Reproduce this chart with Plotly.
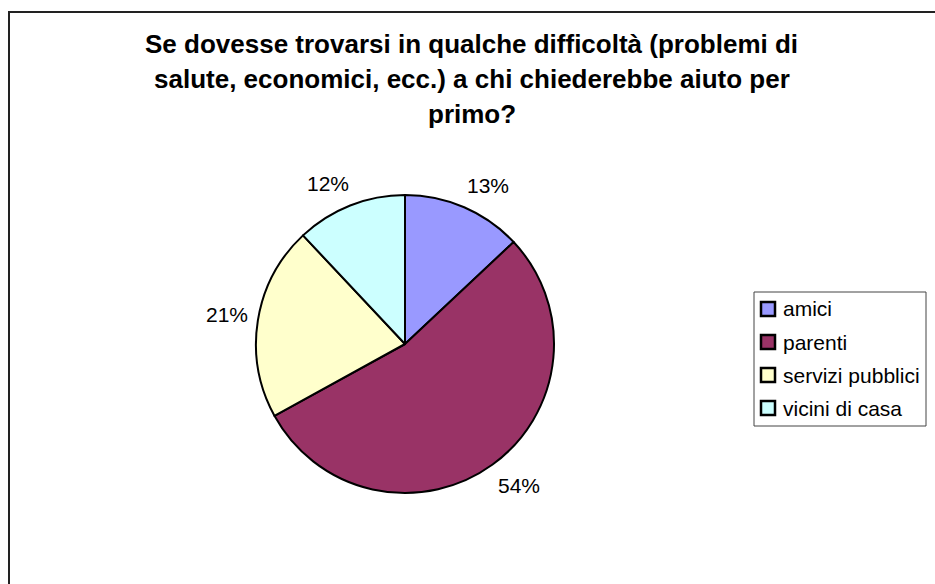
import math
import plotly.graph_objects as go

# Survey answers: who would you ask for help first
categories = ["amici", "parenti", "servizi pubblici", "vicini di casa"]
percentages = [13, 54, 21, 12]
slice_colors = ["#9999FF", "#993366", "#FFFFCC", "#CCFFFF"]

title_lines = [
    "Se dovesse trovarsi in qualche difficoltà (problemi di",
    "salute, economici, ecc.) a chi chiederebbe aiuto per",
    "primo?",
]

W, H = 935, 584
FONT = "Liberation Sans, Arial, sans-serif"

# pie geometry in pixels
CX, CY, R = 405, 344, 149


def px(x):
    return x / W


def py(y):
    return 1 - y / H


fig = go.Figure(
    go.Pie(
        labels=categories,
        values=percentages,
        marker=dict(colors=slice_colors, line=dict(color="black", width=2)),
        sort=False,
        direction="clockwise",
        rotation=0,
        textinfo="none",
        hoverinfo="label+percent",
        showlegend=False,
        domain=dict(x=[px(CX - R), px(CX + R)], y=[py(CY + R), py(CY - R)]),
    )
)

annotations = []
shapes = []

# title, one annotation per line
for i, line in enumerate(title_lines):
    annotations.append(
        dict(
            text=f"<b>{line}</b>",
            x=px(472),
            y=py(44 + i * 35),
            xref="paper",
            yref="paper",
            xanchor="center",
            yanchor="middle",
            showarrow=False,
            font=dict(family=FONT, size=26, color="black"),
        )
    )

# percentage labels placed outside each slice at its mid angle
total = sum(percentages)
cum = 0
half_w, half_h, gap = 19, 11, 12
for v in percentages:
    frac = (cum + v / 2) / total
    cum += v
    ang = math.pi / 2 - 2 * math.pi * frac
    c, s = math.cos(ang), math.sin(ang)
    ax = CX + (R + gap) * c
    ay = CY - (R + gap) * s
    kx = max(-1, min(1, c / 0.4))
    ky = max(-1, min(1, s / 0.4))
    tx = ax + half_w * kx
    ty = ay - half_h * ky
    annotations.append(
        dict(
            text=f"{v}%",
            x=px(tx),
            y=py(ty),
            xref="paper",
            yref="paper",
            xanchor="center",
            yanchor="middle",
            showarrow=False,
            font=dict(family=FONT, size=21, color="black"),
        )
    )

# legend box with swatches
LX0, LY0, LX1, LY1 = 754, 292, 926, 426
shapes.append(
    dict(
        type="rect",
        xref="paper",
        yref="paper",
        x0=px(LX0),
        x1=px(LX1),
        y0=py(LY1),
        y1=py(LY0),
        line=dict(color="#444444", width=1),
        fillcolor="white",
        layer="above",
    )
)
step = 33
first = 309
for i, (name, col) in enumerate(zip(categories, slice_colors)):
    yc = first + i * step
    shapes.append(
        dict(
            type="rect",
            xref="paper",
            yref="paper",
            x0=px(761),
            x1=px(775),
            y0=py(yc + 7),
            y1=py(yc - 7),
            line=dict(color="black", width=2.5),
            fillcolor=col,
            layer="above",
        )
    )
    annotations.append(
        dict(
            text=name,
            x=px(781),
            y=py(yc),
            xref="paper",
            yref="paper",
            xanchor="left",
            yanchor="middle",
            showarrow=False,
            font=dict(family=FONT, size=21, color="black"),
        )
    )

# chart frame
shapes.append(
    dict(
        type="rect",
        xref="paper",
        yref="paper",
        x0=px(9),
        x1=px(W + 10),
        y0=py(H + 10),
        y1=py(12),
        line=dict(color="#222222", width=2),
        fillcolor="rgba(0,0,0,0)",
        layer="above",
    )
)

fig.update_layout(
    width=W,
    height=H,
    margin=dict(l=0, r=0, t=0, b=0),
    paper_bgcolor="white",
    plot_bgcolor="white",
    annotations=annotations,
    shapes=shapes,
    showlegend=False,
)

fig.write_html("out.html")
